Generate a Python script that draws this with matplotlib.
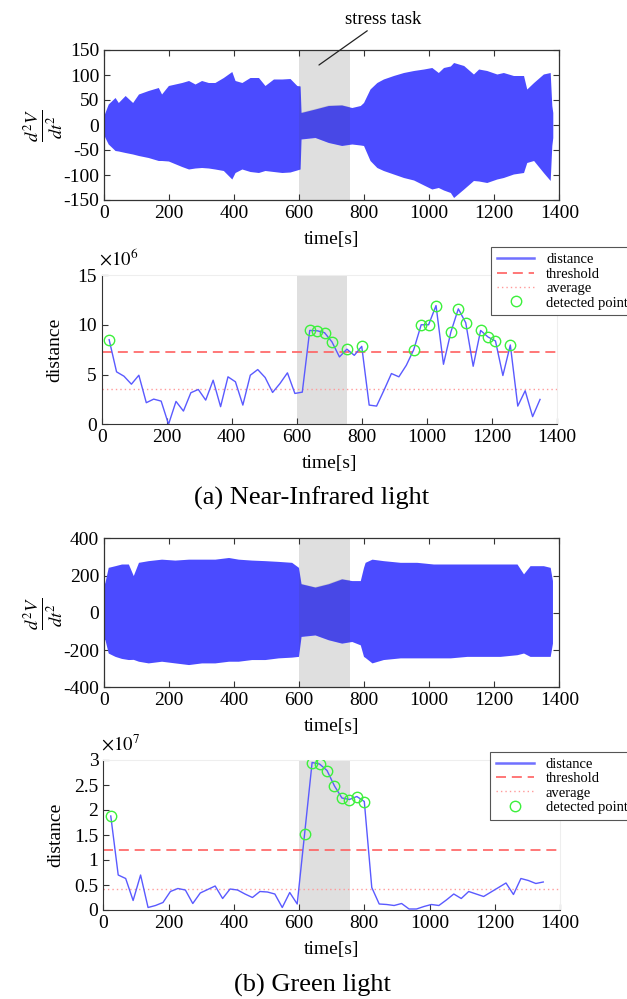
import matplotlib
matplotlib.use('Agg')
import matplotlib.pyplot as plt

plt.rcParams['font.family'] = ['Liberation Serif', 'DejaVu Serif']
plt.rcParams['mathtext.fontset'] = 'stix'
plt.rcParams['axes.unicode_minus'] = False

# stress task interval [s]
stress_start = 600
stress_end = 756

# second-derivative waveform, read as upper / lower envelope
nir_wave_t = [0, 3, 13, 34, 44, 65, 88, 106, 136, 167, 177, 198, 239, 260, 280, 300,
              321, 341, 367, 393, 403, 424, 449, 475, 495, 521, 547, 572, 593, 603,
              606, 649, 690, 731, 762, 788, 798, 818, 839, 859, 890, 921, 952, 983,
              1008, 1028, 1044, 1065, 1075, 1106, 1136, 1152, 1177, 1208, 1228, 1259,
              1290, 1300, 1321, 1351, 1372, 1377, 1380]
nir_wave_hi = [20, 25, 42, 55, 45, 59, 45, 62, 69, 75, 62, 79, 85, 89, 82, 89,
               85, 85, 95, 107, 89, 85, 95, 95, 79, 92, 92, 93, 79, 78,
               25, 32, 39, 40, 35, 39, 45, 72, 85, 92, 99, 105, 109, 112,
               115, 105, 115, 118, 125, 119, 102, 112, 109, 102, 105, 99,
               99, 72, 85, 102, 105, 39, 25]
nir_wave_lo = [-20, -25, -38, -51, -52, -55, -58, -61, -65, -71, -71, -72, -83, -88, -86, -85,
               -86, -88, -91, -108, -95, -88, -93, -95, -91, -93, -95, -94, -90, -88,
               -28, -25, -35, -41, -38, -40, -41, -71, -85, -91, -98, -105, -110, -120,
               -128, -125, -130, -135, -145, -128, -111, -112, -115, -108, -105, -98,
               -95, -75, -71, -95, -111, -41, -25]

green_wave_t = [0, 3, 13, 34, 54, 75, 90, 106, 136, 177, 218, 260, 300, 341, 383, 413,
                454, 495, 536, 577, 598, 606, 649, 690, 731, 762, 788, 798, 803, 824,
                859, 911, 962, 1013, 1065, 1116, 1167, 1218, 1270, 1290, 1310, 1351,
                1372, 1379]
green_wave_hi = [150, 165, 244, 253, 262, 262, 200, 271, 280, 288, 283, 288, 288, 288, 297, 288,
                 283, 280, 276, 271, 244, 156, 138, 156, 182, 173, 173, 244, 271, 288,
                 280, 271, 271, 262, 262, 262, 262, 262, 262, 209, 253, 253,
                 244, 173]
green_wave_lo = [-140, -145, -216, -234, -245, -251, -250, -260, -269, -260, -269, -278, -269, -269, -260, -260,
                 -251, -251, -242, -238, -234, -127, -119, -145, -163, -154, -172, -234, -240, -269,
                 -251, -242, -242, -242, -242, -234, -234, -234, -225, -216, -234, -234,
                 -234, -163]

# window times of the distance series [s]
dist_t = [22.9, 45.7, 68.6, 91.4, 114.3, 137.2, 160.0, 182.9, 205.7, 228.6,
          251.5, 274.3, 297.2, 320.0, 342.9, 365.8, 388.6, 411.5, 434.3, 457.2,
          480.1, 502.9, 525.8, 548.6, 571.5, 594.4, 617.2, 640.1, 662.9, 685.8,
          708.7, 731.5, 754.4, 777.2, 800.1, 823.0, 845.8, 868.7, 891.5, 914.4,
          937.3, 960.1, 983.0, 1005.8, 1028.7, 1051.6, 1074.4, 1097.3, 1120.1, 1143.0,
          1165.9, 1188.7, 1211.6, 1234.4, 1257.3, 1280.2, 1303.0, 1325.9, 1348.7]

# distance, NIR (x1e6)
nir_dist = [8.5, 5.27, 4.83, 4.03, 4.93, 2.17, 2.53, 2.33, 0.0, 2.3,
            1.33, 3.17, 3.5, 2.43, 4.43, 1.77, 4.77, 4.27, 1.93, 4.93,
            5.5, 4.7, 3.2, 4.1, 5.17, 3.1, 3.23, 9.43, 9.4, 9.2,
            8.27, 6.77, 7.55, 6.93, 7.83, 1.93, 1.83, 3.43, 5.1, 4.77,
            5.93, 7.5, 10.0, 10.0, 11.93, 6.03, 9.27, 11.6, 10.2, 5.83,
            9.43, 8.77, 8.37, 4.9, 7.97, 1.83, 3.37, 0.77, 2.5]
nir_threshold = 7.3
nir_average = 3.55

# distance, green (x1e7)
green_dist = [1.88, 0.70, 0.63, 0.19, 0.70, 0.05, 0.09, 0.15, 0.37, 0.43,
              0.40, 0.13, 0.34, 0.41, 0.48, 0.23, 0.42, 0.40, 0.32, 0.25,
              0.37, 0.36, 0.32, 0.05, 0.35, 0.12, 1.53, 2.95, 2.92, 2.79,
              2.48, 2.24, 2.21, 2.27, 2.17, 0.45, 0.12, 0.11, 0.09, 0.13,
              0.02, 0.02, 0.07, 0.11, 0.09, 0.20, 0.32, 0.23, 0.37, 0.32,
              0.27, 0.36, 0.45, 0.54, 0.31, 0.63, 0.59, 0.53, 0.56]
green_threshold = 1.21
green_average = 0.42

W, H = 627, 999
fig = plt.figure(figsize=(W / 100, H / 100), dpi=100)


def box(left, top, right, bottom):
    return [left / W, 1 - bottom / H, (right - left) / W, (bottom - top) / H]


def wave_panel(rect, t, hi, lo, ylim, yticks):
    ax = fig.add_axes(rect)
    ax.axvspan(stress_start, stress_end, color='#dfdfdf', lw=0, zorder=1)
    fill = ax.fill_between(t, lo, hi, color='#4b4bff', lw=0, zorder=2)
    # signal under the stress patch looks darker
    shade = ax.axvspan(stress_start, stress_end, color='#3a3a70', alpha=0.17, lw=0, zorder=3)
    shade.set_clip_path(fill.get_paths()[0], ax.transData)
    ax.set_xlim(0, 1400)
    ax.set_ylim(*ylim)
    ax.set_yticks(yticks)
    ax.set_xticks(range(0, 1401, 200))
    ax.tick_params(direction='in', top=True, right=True, labelsize=14,
                   length=4, color='#333333', pad=3.5)
    for s in ax.spines.values():
        s.set_color('#333333')
        s.set_linewidth(0.9)
    ax.set_ylabel(r'$\frac{d^2V}{dt^2}$', fontsize=19)
    ax.yaxis.set_label_coords(-0.085, 0.5)
    ax.set_xlabel('time[s]', fontsize=14)
    ax.xaxis.set_label_coords(0.5, -0.205)
    return ax


def dist_panel(rect, t, d, thr, avg, ymax, yticks, yticklabels, exponent, leg_anchor):
    ax = fig.add_axes(rect)
    ax.axvspan(stress_start, stress_end, color='#dfdfdf', lw=0, zorder=1)
    ax.plot(t, d, color='#5a5aff', lw=1.0, zorder=3, label='distance')
    ax.axhline(thr, color='#ff6060', lw=1.2, ls=(0, (6, 3.5)), zorder=2, label='threshold')
    ax.axhline(avg, color='#ff9a9a', lw=1.0, ls=(0, (1, 2.2)), zorder=2, label='average')
    det_t = [x for x, v in zip(t, d) if v > thr]
    det_d = [v for v in d if v > thr]
    ax.plot(det_t, det_d, 'o', ms=7.5, mfc='none', mec='#3cf03c', mew=1.0, zorder=4,
            label='detected point')
    ax.set_xlim(0, 1400)
    ax.set_ylim(0, ymax)
    ax.set_xticks(range(0, 1401, 200))
    ax.set_yticks(yticks)
    ax.set_yticklabels(yticklabels)
    ax.tick_params(direction='in', labelsize=14, length=4, color='#333333', pad=3.5)
    ax.spines['left'].set_color('#333333')
    ax.spines['bottom'].set_color('#333333')
    ax.spines['top'].set_color('#eeeeee')
    ax.spines['right'].set_color('#eeeeee')
    ax.set_ylabel('distance', fontsize=14)
    ax.yaxis.set_label_coords(-0.085, 0.5)
    ax.set_xlabel('time[s]', fontsize=14)
    ax.xaxis.set_label_coords(0.5, -0.205)
    ax.text(-0.005, 1.035, r'$\times10^{%d}$' % exponent, transform=ax.transAxes,
            ha='left', va='bottom', fontsize=13.5)
    leg = ax.legend(loc='upper left', bbox_to_anchor=leg_anchor, borderaxespad=0,
                    fontsize=10.5, frameon=True, fancybox=False, framealpha=1,
                    edgecolor='#555555', handlelength=2.6, handletextpad=0.8,
                    labelspacing=0.08, borderpad=0.4)
    leg.get_frame().set_linewidth(0.8)
    leg.get_lines()[0].set_linewidth(1.8)
    leg.get_lines()[0].set_color('#7070ff')
    leg.set_zorder(10)
    return ax


ax1 = wave_panel(box(104, 50, 559.3, 200), nir_wave_t, nir_wave_hi, nir_wave_lo,
                 (-150, 150), range(-150, 151, 50))
ax1.annotate('stress task', xy=(661, 120), xytext=(741, 211),
             ha='left', va='center', fontsize=13.5, annotation_clip=False,
             arrowprops=dict(arrowstyle='-', color='#222222', lw=0.9,
                             shrinkA=0, shrinkB=0))

dist_panel(box(101.7, 275, 556.7, 424.3), dist_t, nir_dist, nir_threshold, nir_average,
           15, [0, 5, 10, 15], ['0', '5', '10', '15'], 6, (0.855, 1.185))

wave_panel(box(104, 538.3, 559.3, 687.3), green_wave_t, green_wave_hi, green_wave_lo,
           (-400, 400), range(-400, 401, 200))

dist_panel(box(103.3, 760, 560, 910), dist_t, green_dist, green_threshold, green_average,
           3, [0, 0.5, 1, 1.5, 2, 2.5, 3], ['0', '0.5', '1', '1.5', '2', '2.5', '3'], 7,
           (0.847, 1.055))

fig.text(312 / W, 1 - 498 / H, '(a) Near-Infrared light', ha='center', va='center', fontsize=19)
fig.text(312 / W, 1 - 985 / H, '(b) Green light', ha='center', va='center', fontsize=19)

fig.savefig('out.png', dpi=100)
